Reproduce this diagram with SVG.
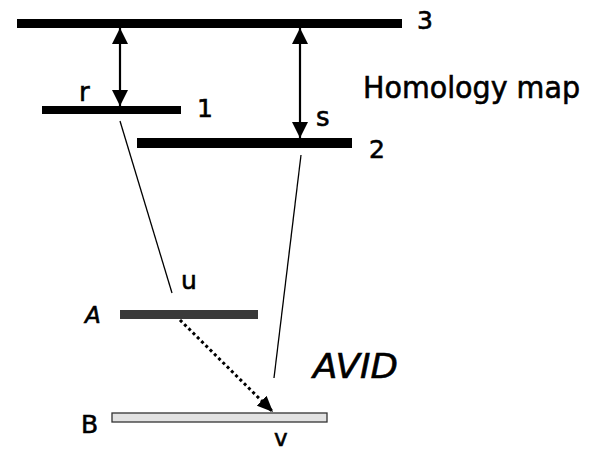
<svg xmlns="http://www.w3.org/2000/svg" width="597" height="453" viewBox="0 0 597 453">
<style>
text{font-family:"DejaVu Sans","Liberation Sans",sans-serif;fill:#000;stroke:#000;stroke-width:0.6}
.bar{fill:#000}
.thin{stroke:#000;stroke-width:1.3;fill:none}
.dbl{stroke:#000;stroke-width:2.2;fill:none}
</style>
<defs>
<marker id="ah" viewBox="0 0 16 16" refX="16" refY="8" markerWidth="16" markerHeight="16" markerUnits="userSpaceOnUse" orient="auto-start-reverse">
<path d="M0,0 L16,8 L0,16 Z" fill="#000"/>
</marker>
<marker id="ah2" viewBox="0 0 16 14" refX="16" refY="7" markerWidth="16" markerHeight="14" markerUnits="userSpaceOnUse" orient="auto">
<path d="M0,0 L16,7 L0,14 Z" fill="#000"/>
</marker>
</defs>
<g id="bar3"><rect class="bar" x="17" y="19" width="385" height="9"/><text x="417" y="29" font-size="25">3</text></g>
<g id="bar1"><rect class="bar" x="42" y="106" width="139" height="8"/><text x="197" y="117" font-size="25">1</text></g>
<g id="bar2"><rect class="bar" x="137" y="138" width="215" height="10"/><text x="369" y="158" font-size="25">2</text></g>
<g id="barA"><rect x="120" y="310" width="138" height="9" fill="#3a3a3a"/><text x="85" y="323" font-size="23" font-style="italic">A</text></g>
<g id="barB"><rect x="112" y="413" width="215" height="9" fill="#e2e2e2" stroke="#333" stroke-width="1.3"/><text x="81" y="433" font-size="25">B</text></g>
<g id="labels">
<text x="79" y="101" font-size="26">r</text>
<text x="316" y="126" font-size="26">s</text>
<text x="181" y="289" font-size="25">u</text>
<text x="274" y="446" font-size="23">v</text>
<text x="363" y="98" font-size="30" textLength="217" lengthAdjust="spacingAndGlyphs">Homology map</text>
<text x="313" y="378" font-size="34" textLength="85" lengthAdjust="spacingAndGlyphs" font-style="italic">AVID</text>
</g>
<g id="connectors">
<line class="dbl" x1="120" y1="28" x2="120" y2="106" marker-start="url(#ah)" marker-end="url(#ah)"/>
<line class="dbl" x1="300" y1="28" x2="300" y2="138" marker-start="url(#ah)" marker-end="url(#ah)"/>
<line class="thin" x1="120" y1="121" x2="172" y2="293"/>
<line class="thin" x1="301" y1="155" x2="274" y2="378"/>
<line x1="180" y1="320" x2="273" y2="412" stroke="#000" stroke-width="3" stroke-dasharray="3 3" marker-end="url(#ah2)"/>
</g>
</svg>
